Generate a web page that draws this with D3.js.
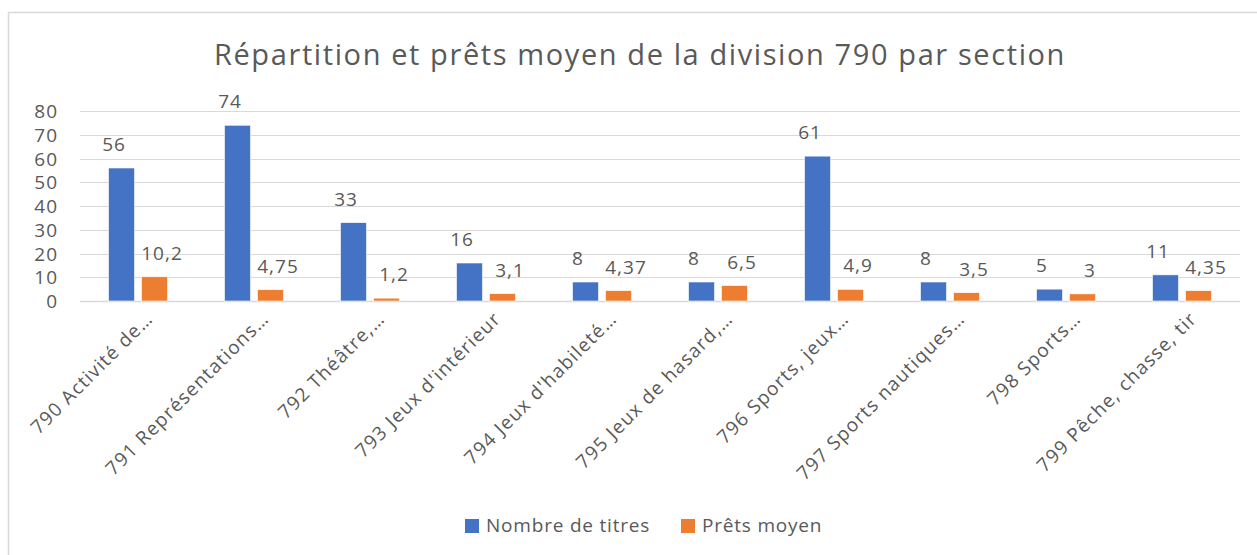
<!DOCTYPE html>
<html><head><meta charset="utf-8">
<script src="https://cdn.jsdelivr.net/npm/d3@7"></script>
<style>body{margin:0;background:#fff;} svg{display:block;} text{font-family:"Open Sans",sans-serif;fill:#595959;}</style>
</head><body>
<svg id="c" width="1257" height="555"></svg>
<script>
const categories = ["790 Activité de…","791 Représentations…","792 Théâtre,…","793 Jeux d'intérieur","794 Jeux d'habileté…","795 Jeux de hasard,…","796 Sports, jeux…","797 Sports nautiques…","798 Sports…","799 Pêche, chasse, tir"];
const nombreTitres = [56,74,33,16,8,8,61,8,5,11];
const pretsMoyen = [10.2,4.75,1.2,3.1,4.37,6.5,4.9,3.5,3,4.35];
const yTicks = [0,10,20,30,40,50,60,70,80];
const seriesNames = ["Nombre de titres","Prêts moyen"];
const colors = ["#4472C4","#ED7D31"];
const title = "Répartition et prêts moyen de la division 790 par section";

const svg = d3.select("#c");
svg.append("rect").attr("x",8.5).attr("y",12.5).attr("width",1270).attr("height",570)
  .attr("fill","#fff").attr("stroke","#d9d9d9").attr("stroke-width",1.5);

const m = {left:80, right:1240, top:111, bottom:301};
const x = d3.scaleBand().domain(categories).range([m.left,m.right]);
const y = d3.scaleLinear().domain([0,80]).range([m.bottom,m.top]);

svg.append("text").attr("x",640).attr("y",65).attr("text-anchor","middle")
  .style("font-size","29px").style("letter-spacing","1.6px").text(title);

// gridlines
svg.append("g").selectAll("line").data(yTicks).join("line")
  .attr("x1",m.left).attr("x2",m.right)
  .attr("y1",d=>Math.round(y(d))+0.5).attr("y2",d=>Math.round(y(d))+0.5)
  .attr("stroke","#d9d9d9").attr("stroke-width",d=>d===0?1.5:1.2);

// y tick labels
svg.append("g").selectAll("text").data(yTicks).join("text")
  .attr("x",58).attr("y",d=>y(d)+7).attr("text-anchor","end")
  .style("font-size","19px").style("letter-spacing","1px").text(d=>d);

const bw = 26, gap = 7;
const series = [nombreTitres, pretsMoyen];
series.forEach((vals,si)=>{
  const g = svg.append("g");
  const bx = (c)=> x(c)+x.bandwidth()/2 + (si===0 ? -gap/2-bw : gap/2);
  g.selectAll("rect").data(vals).join("rect")
    .attr("x",(d,i)=>bx(categories[i])).attr("width",bw)
    .attr("y",d=>y(d)).attr("height",d=>y(0)-y(d))
    .attr("fill",colors[si]).attr("stroke","#fff").attr("stroke-width",0.6);
  g.selectAll("text").data(vals).join("text")
    .attr("x",(d,i)=>bx(categories[i])+bw/2+(si===0?-7.5:7.5))
    .attr("y",d=>y(d)-17).attr("text-anchor","middle")
    .style("font-size","19px").style("letter-spacing","1px").text(d=>String(d).replace(".",","));
});

// x labels
svg.append("g").selectAll("text").data(categories).join("text")
  .attr("transform",d=>`translate(${x(d)+x.bandwidth()/2+16},320) rotate(-45)`)
  .attr("text-anchor","end").style("font-size","19px").style("letter-spacing","1.2px").text(d=>d);

// legend
const lg = svg.append("g");
const lx = [465,681];
seriesNames.forEach((n,i)=>{
  lg.append("rect").attr("x",lx[i]).attr("y",519).attr("width",14).attr("height",14).attr("fill",colors[i]);
  lg.append("text").attr("x",lx[i]+21).attr("y",532).style("font-size","19px").style("letter-spacing","0.8px").text(n);
});
</script>
</body></html>
